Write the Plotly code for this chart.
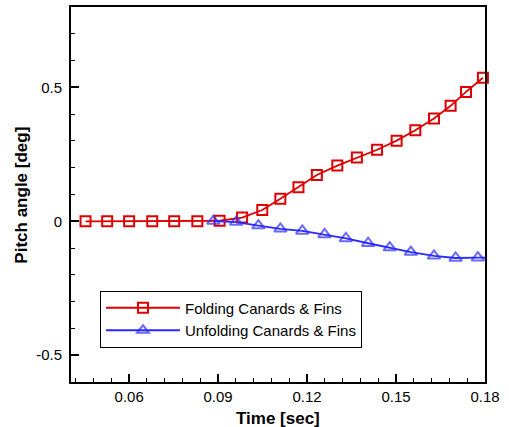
import plotly.graph_objects as go

# Data
fold_t = [0.0453, 0.0526, 0.0600, 0.0678, 0.0752, 0.0830, 0.0905, 0.0981, 0.1049,
          0.1110, 0.1171, 0.1233, 0.1302, 0.1368, 0.1436, 0.1502, 0.1565, 0.1628,
          0.1684, 0.1736, 0.1793]
fold_pitch = [0.0, 0.0, 0.0, 0.0, 0.0, 0.0, 0.002, 0.014, 0.042, 0.084, 0.127, 0.173,
              0.208, 0.238, 0.267, 0.301, 0.340, 0.384, 0.431, 0.483, 0.536]

unfold_t = [0.0884, 0.0961, 0.1036, 0.1110, 0.1184, 0.1259, 0.1331, 0.1406, 0.1479,
            0.1550, 0.1628, 0.1701, 0.1776, 0.1800]
unfold_pitch = [0.001, -0.003, -0.016, -0.028, -0.036, -0.049, -0.064, -0.082, -0.098,
                -0.115, -0.129, -0.137, -0.136, -0.136]

x_ticks = [0.06, 0.09, 0.12, 0.15, 0.18]
x_ticktext = ["0.06", "0.09", "0.12", "0.15", "0.18"]
y_ticks = [-0.5, 0.0, 0.5]
y_ticktext = ["-0.5", "0", "0.5"]

x_title = "Time [sec]"
y_title = "Pitch angle [deg]"

RED = "#dd0000"
BLUE = "#2a2aff"
FONT = "Arial, Liberation Sans, sans-serif"

fig = go.Figure()
fig.add_trace(go.Scatter(
    x=fold_t, y=fold_pitch, mode="lines+markers", name="Folding Canards & Fins",
    line=dict(color=RED, width=1.8),
    marker=dict(symbol="square-open", size=10, color=RED, line=dict(width=2, color=RED)),
    cliponaxis=False,
))
unfold_sizes = [11] * (len(unfold_t) - 1) + [0]
fig.add_trace(go.Scatter(
    x=unfold_t, y=unfold_pitch, mode="lines+markers", name="Unfolding Canards & Fins",
    line=dict(color=BLUE, width=1.8),
    marker=dict(symbol="triangle-up-open", size=unfold_sizes, color=BLUE,
                line=dict(width=2, color=BLUE)),
    cliponaxis=False,
))

axis_common = dict(
    showline=True, linecolor="black", linewidth=2, mirror=True,
    ticks="inside", ticklen=8, tickwidth=1.5, tickcolor="black",
    showgrid=False, zeroline=False,
    tickfont=dict(family=FONT, size=15, color="black"),
)

fig.update_layout(
    width=509, height=427,
    margin=dict(l=71, r=24, t=5, b=45),
    paper_bgcolor="white", plot_bgcolor="white",
    font=dict(family=FONT, color="black"),
    xaxis=dict(
        range=[0.0404, 0.18], tickvals=x_ticks, ticktext=x_ticktext,
        minor=dict(dtick=0.006, tick0=0.0, ticks="inside", ticklen=4, tickwidth=1, tickcolor="black"),
        **axis_common,
    ),
    yaxis=dict(
        range=[-0.6, 0.8], tickvals=y_ticks, ticktext=y_ticktext,
        minor=dict(dtick=0.1, tick0=0.0, ticks="inside", ticklen=4, tickwidth=1, tickcolor="black"),
        ticklabelstandoff=4,
        **axis_common,
    ),
    showlegend=True,
    legend=dict(
        x=0.070, y=0.244, xanchor="left", yanchor="top",
        bordercolor="black", borderwidth=1, bgcolor="white",
        font=dict(family=FONT, size=15, color="black"),
        itemwidth=74, tracegroupgap=0,
    ),
    annotations=[
        dict(text="<b>" + x_title + "</b>", xref="paper", yref="paper", x=0.5, y=0,
             xanchor="center", yanchor="middle", yshift=-36, showarrow=False,
             font=dict(family=FONT, size=17, color="black")),
        dict(text="<b>" + y_title + "</b>", xref="paper", yref="paper", x=0, y=0.497,
             xanchor="center", yanchor="middle", xshift=-49, textangle=-90, showarrow=False,
             font=dict(family=FONT, size=17, color="black")),
    ],
)

fig.write_html("out.html")
